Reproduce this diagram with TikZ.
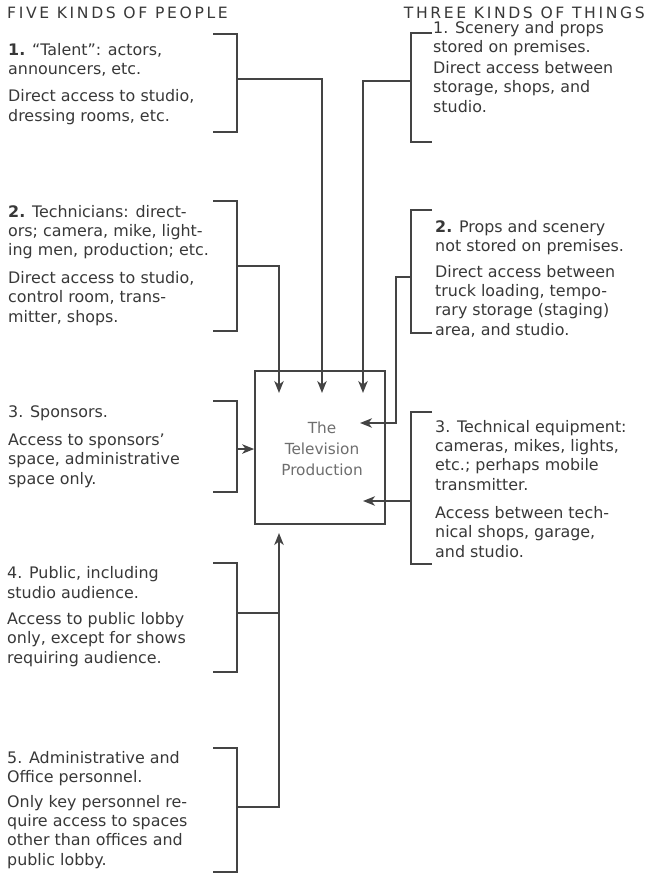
\documentclass[tikz,border=0pt]{standalone}
\usepackage{fontspec}
\setmainfont{DejaVu Sans}
\usetikzlibrary{arrows.meta}
\definecolor{ink}{HTML}{383838}
\definecolor{lineink}{HTML}{444444}
\definecolor{boxtext}{HTML}{6E6E6E}
\tikzset{
  txt/.style={font=\fontsize{15.9}{19.3}\selectfont, text=ink, align=left, inner sep=0pt, anchor=base west},
  hdr/.style={font=\fontsize{15.6}{19}\selectfont\addfontfeatures{LetterSpace=17}, text=ink, inner sep=0pt, text depth=0pt},
  brk/.style={draw=lineink, line width=1.5pt},
  conn/.style={draw=lineink, line width=1.5pt},
  arr/.style={conn, -{Stealth[length=12pt,width=9.5pt,inset=3.5pt]}},
  tvbox/.style={draw=lineink, line width=1.7pt, minimum width=130pt, minimum height=153pt, inner sep=0pt},
}
\begin{document}
\begin{tikzpicture}[x=1pt,y=-1pt]
\useasboundingbox (0,0) rectangle (650,873);

% headers
\node[hdr, anchor=base west] (hl) at (7,18) {FIVE KINDS OF PEOPLE};
\node[hdr, anchor=base east] (hr) at (645,18.5) {THREE KINDS OF THINGS};

% central box
\node[tvbox] (box) at (320,447.5) {};
\node[font=\fontsize{15.3}{21}\selectfont, text=boxtext, align=center, inner sep=0pt, anchor=base] (boxlbl) at (322,475) {The\\Television\\Production};

% left texts (anchored at the baseline of the last line)
\node[txt] (L1) at (8,121) {\textbf{1.} “Talent”: actors,\\announcers, etc.\\[8pt]Direct access to studio,\\dressing rooms, etc.};
\node[txt] (L2) at (8,322) {\textbf{2.} Technicians: direct-\\ors; camera, mike, light-\\ing men, production; etc.\\[8.5pt]Direct access to studio,\\control room, trans-\\mitter, shops.};
\node[txt] (L3) at (8,484) {3. Sponsors.\\[9pt]Access to sponsors’\\space, administrative\\space only.};
\node[txt] (L4) at (7,663) {4. Public, including\\studio audience.\\[7pt]Access to public lobby\\only, except for shows\\requiring audience.};
\node[txt] (L5) at (7,865) {5. Administrative and\\Office personnel.\\[5pt]Only key personnel re-\\quire access to spaces\\other than offices and\\public lobby.};

% right texts
\node[txt] (R1) at (433,112) {1. Scenery and props\\stored on premises.\\[1.5pt]Direct access between\\storage, shops, and\\studio.};
\node[txt] (R2) at (435,335) {\textbf{2.} Props and scenery\\not stored on premises.\\[6.5pt]Direct access between\\truck loading, tempo-\\rary storage (staging)\\area, and studio.};
\node[txt] (R3) at (435,557) {3. Technical equipment:\\cameras, mikes, lights,\\etc.; perhaps mobile\\transmitter.\\[9pt]Access between tech-\\nical shops, garage,\\and studio.};

% brackets (left)
\draw[brk] (213,34) -- (237,34) -- (237,132) -- (213,132);
\draw[brk] (213,201) -- (237,201) -- (237,331) -- (213,331);
\draw[brk] (213,401) -- (237,401) -- (237,492) -- (213,492);
\draw[brk] (213,563) -- (237,563) -- (237,672) -- (213,672);
\draw[brk] (213,748) -- (237,748) -- (237,872) -- (213,872);
% brackets (right)
\draw[brk] (432,33) -- (411,33) -- (411,142) -- (432,142);
\draw[brk] (432,210) -- (411,210) -- (411,333) -- (432,333);
\draw[brk] (432,412) -- (411,412) -- (411,564) -- (432,564);

% connector points
\coordinate (p1) at (237,79);
\coordinate (p2) at (237,266);
\coordinate (p3) at (237,449);
\coordinate (p4) at (237,613);
\coordinate (p5) at (237,807);
\coordinate (j4) at (279,613);
\coordinate (r1) at (411,81);
\coordinate (r2) at (411,277);
\coordinate (r2b) at (396,277);
\coordinate (r3) at (411,501);
\coordinate (t1) at (322,393);
\coordinate (t2) at (279,393);
\coordinate (t3) at (363,393);
\coordinate (t4) at (360,423);
\coordinate (t5) at (363,501);
\coordinate (t6) at (279,533);

\draw[arr] (p1) -| (t1);
\draw[arr] (p2) -| (t2);
\draw[arr] (r1) -| (t3);
\draw[arr] (r2) -- (r2b) |- (t4);
\draw[arr] (r3) -- (t5);
\draw[arr] (p3) -- (p3 -| box.west);
\draw[arr] (p5) -| (t6);
\draw[conn] (p4) -- (j4);
\end{tikzpicture}
\end{document}
